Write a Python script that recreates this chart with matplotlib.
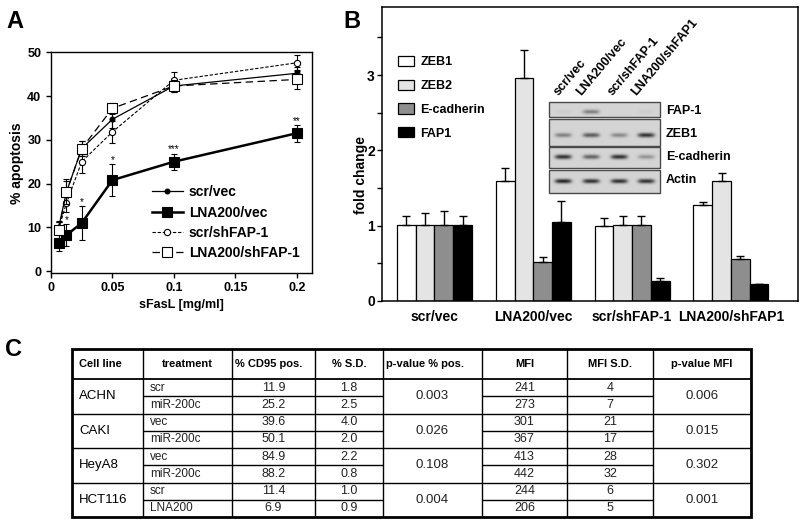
import numpy as np
import matplotlib

matplotlib.use("Agg")
import matplotlib.pyplot as plt
from matplotlib.patches import Rectangle, Patch
from matplotlib import font_manager

plt.rcParams["font.family"] = ["Liberation Sans", "DejaVu Sans"]
plt.rcParams["font.weight"] = "bold"
plt.rcParams["axes.labelweight"] = "bold"

_names = {f.name for f in font_manager.fontManager.ttflist}
NARROW = "Liberation Sans Narrow" if "Liberation Sans Narrow" in _names else "Liberation Sans"

W, H = 800, 526

# ---- panel A: apoptosis vs sFasL
sfasl = [0.00625, 0.0125, 0.025, 0.05, 0.1, 0.2]
scr_vec = [10.0, 18.0, 28.0, 34.7, 42.3, 45.2]
scr_vec_err = [1.5, 3.0, 1.7, 2.0, 1.3, 1.5]
lna_vec = [6.5, 8.2, 11.0, 20.8, 25.0, 31.5]
lna_vec_err = [1.9, 2.5, 3.9, 3.7, 1.8, 1.9]
scr_sh = [9.7, 15.5, 25.0, 31.8, 43.6, 47.6]
scr_sh_err = [1.5, 2.0, 2.5, 2.5, 2.0, 1.8]
lna_sh = [9.3, 18.0, 28.0, 37.2, 42.3, 43.8]
lna_sh_err = [2.0, 2.7, 1.7, 1.2, 1.3, 2.2]
lna_stars = ["", "*", "*", "*", "***", "**"]

# ---- panel B: qPCR fold change
groups = ["scr/vec", "LNA200/vec", "scr/shFAP-1", "LNA200/shFAP1"]
genes = ["ZEB1", "ZEB2", "E-cadherin", "FAP1"]
gene_colors = ["white", "#e4e4e4", "#8e8e8e", "black"]
zeb1 = [1.01, 1.60, 0.99, 1.27]
zeb1_err = [0.12, 0.16, 0.11, 0.05]
zeb2 = [1.01, 2.96, 1.01, 1.60]
zeb2_err = [0.16, 0.37, 0.12, 0.10]
ecad = [1.01, 0.52, 1.01, 0.56]
ecad_err = [0.18, 0.06, 0.12, 0.04]
fap1 = [1.01, 1.05, 0.27, 0.22]
fap1_err = [0.12, 0.28, 0.03, 0.005]

# western blot inset (relative band intensities, 0..1)
blot_lanes = ["scr/vec", "LNA200/vec", "scr/shFAP-1", "LNA200/shFAP1"]
blot_rows = ["FAP-1", "ZEB1", "E-cadherin", "Actin"]
fap1_band = [0.05, 0.45, 0.0, 0.05]
zeb1_band = [0.45, 0.65, 0.4, 0.85]
ecad_band = [0.85, 0.6, 0.85, 0.35]
actin_band = [0.9, 0.85, 0.85, 0.85]

# ---- panel C: table
headers = ["Cell line", "treatment", "% CD95 pos.", "% S.D.", "p-value % pos.",
           "MFI", "MFI S.D.", "p-value MFI"]
cell_lines = ["ACHN", "CAKI", "HeyA8", "HCT116"]
treatments = ["scr", "miR-200c", "vec", "miR-200c", "vec", "miR-200c", "scr", "LNA200"]
cd95_pos = ["11.9", "25.2", "39.6", "50.1", "84.9", "88.2", "11.4", "6.9"]
pos_sd = ["1.8", "2.5", "4.0", "2.0", "2.2", "0.8", "1.0", "0.9"]
p_pos = ["0.003", "0.026", "0.108", "0.004"]
mfi = ["241", "273", "301", "367", "413", "442", "244", "206"]
mfi_sd = ["4", "7", "21", "17", "28", "32", "6", "5"]
p_mfi = ["0.006", "0.015", "0.302", "0.001"]


def px_box(left, top, right, bottom):
    return [left / W, 1 - bottom / H, (right - left) / W, (bottom - top) / H]


fig = plt.figure(figsize=(W / 100, H / 100), dpi=100)

# ---------------- A
ax_a = fig.add_axes(px_box(51, 52.3, 312.3, 273.3))
series = [
    (scr_vec, scr_vec_err, "scr/vec", dict(lw=0.9, marker="o", ms=3.5, mfc="black")),
    (lna_vec, lna_vec_err, "LNA200/vec", dict(lw=1.8, marker="s", ms=7, mfc="black")),
    (scr_sh, scr_sh_err, "scr/shFAP-1", dict(lw=0.8, ls=(0, (3, 1.6)), marker="o", ms=4.5, mfc="white")),
    (lna_sh, lna_sh_err, "LNA200/shFAP-1", dict(lw=0.9, ls=(0, (6, 3.5)), marker="s", ms=7, mfc="white")),
]
for y, e, lab, st in series:
    ax_a.errorbar(sfasl, y, yerr=e, fmt="none", ecolor="black", elinewidth=0.8,
                  capsize=2.5, capthick=0.8)
    ax_a.plot(sfasl, y, color="black", mec="black", mew=0.8, label=lab, **st)
for xi, yi, ei, s in zip(sfasl, lna_vec, lna_vec_err, lna_stars):
    if s:
        ax_a.text(xi, yi + ei + 0.3, s, ha="center", va="baseline", fontsize=7, fontweight="normal")

ax_a.set_xlim(0, 0.2127)
ax_a.set_ylim(-0.5, 50)
ax_a.set_xticks([0, 0.05, 0.1, 0.15, 0.2], ["0", "0.05", "0.1", "0.15", "0.2"])
ax_a.set_yticks([0, 10, 20, 30, 40, 50])
ax_a.tick_params(direction="out", length=3.5, width=1, labelsize=9)
ax_a.tick_params(axis="x", pad=2.5)
ax_a.tick_params(axis="y", pad=3.5)
for sp in ax_a.spines.values():
    sp.set_linewidth(1.0)
ax_a.set_xlabel("sFasL [mg/ml]", fontsize=9)
ax_a.set_ylabel("% apoptosis", fontsize=10)
ax_a.xaxis.set_label_coords(0.5, -0.118)
ax_a.yaxis.set_label_coords(-0.105, 0.5)
ax_a.legend(loc="upper left", bbox_to_anchor=(0.387, 0.398), frameon=False, fontsize=10,
            handlelength=2.2, handletextpad=0.43, labelspacing=0.45, borderpad=0, borderaxespad=0)

# ---------------- B
ax_b = fig.add_axes(px_box(382, 7.3, 798, 301))
pos = np.arange(len(groups))
bw = 0.19
for i, (vals, errs, gene, col) in enumerate(zip([zeb1, zeb2, ecad, fap1],
                                                 [zeb1_err, zeb2_err, ecad_err, fap1_err],
                                                 genes, gene_colors)):
    xs = pos + (i - 1.5) * bw
    ax_b.bar(xs, vals, width=bw, color=col, edgecolor="black", lw=0.9, label=gene, zorder=2)
    ax_b.errorbar(xs, vals, yerr=[np.zeros(len(vals)), errs], fmt="none", ecolor="black",
                  elinewidth=1, capsize=3.2, capthick=1, zorder=3)
ax_b.set_xlim(-0.531, 3.679)
ax_b.set_ylim(0, 3.9)
ax_b.set_yticks([0, 1, 2, 3])
ax_b.set_yticks([0.5, 1.5, 2.5, 3.5], minor=True)
ax_b.tick_params(axis="y", which="both", direction="out", length=3.6, width=1, pad=1.5, labelsize=10)
ax_b.set_xticks(pos, groups)
ax_b.tick_params(axis="x", length=0, pad=6.5, labelsize=10)
for sp in ax_b.spines.values():
    sp.set_linewidth(1.1)
ax_b.set_ylabel("fold change", fontsize=10)
ax_b.yaxis.set_label_coords(-0.034, 0.43)
handles = [Patch(facecolor=c, edgecolor="black", lw=0.9) for c in gene_colors]
ax_b.legend(handles, genes, loc="upper left", bbox_to_anchor=(0.038, 0.835), frameon=False,
            fontsize=9, handlelength=1.3, handleheight=0.9, handletextpad=0.5,
            labelspacing=0.9, borderpad=0, borderaxespad=0)

# ---------------- overlay (pixel coordinates): blot inset + table
ax_o = fig.add_axes([0, 0, 1, 1])
ax_o.axis("off")

blot_left, blot_right = 549, 659.5
strip_tops = [101.7, 119, 147, 170]
strip_bottoms = [116.7, 145.7, 168.3, 192.7]
band_y = [111.5, 135, 157.5, 181]
lane_x = [563, 591, 619, 646]
for k, intens in enumerate([fap1_band, zeb1_band, ecad_band, actin_band]):
    top, bot = strip_tops[k], strip_bottoms[k]
    xx = np.linspace(blot_left, blot_right, 220)
    yy = np.linspace(top, bot, 60)
    X, Y = np.meshgrid(xx, yy)
    img = np.full(X.shape, 0.27)
    for lx, amp in zip(lane_x, intens):
        img += 0.68 * amp * np.exp(-((X - lx) / 8.5) ** 4) * np.exp(-((Y - band_y[k]) / 2.3) ** 2)
    ax_o.imshow(img, extent=(blot_left, blot_right, bot, top), cmap="Greys", vmin=0, vmax=1,
                aspect="auto", interpolation="bilinear", zorder=3)
    ax_o.add_patch(Rectangle((blot_left, top), blot_right - blot_left, bot - top, fill=False,
                             ec="#4a4a4a", lw=1, zorder=4))
    ax_o.text(666, band_y[k] - 1, blot_rows[k], ha="left", va="center", fontsize=9)
lane_anchor_x = [561, 583, 615, 638]
for lx, lab in zip(lane_anchor_x, blot_lanes):
    ax_o.text(lx, 98, lab, rotation=50, rotation_mode="anchor", ha="left", va="bottom", fontsize=9)

# table
col_edges = [72, 143, 232, 315, 383, 482, 567, 653, 751]
tab_top, head_bot, row_h = 349, 379, 17.25
tab_bot = head_bot + 8 * row_h
ax_o.add_patch(Rectangle((col_edges[0], tab_top), col_edges[-1] - col_edges[0], tab_bot - tab_top,
                         fill=False, ec="black", lw=2.0, zorder=5))
ax_o.hlines(head_bot, col_edges[0], col_edges[-1], color="black", lw=1.3)
for g in range(1, 4):
    ax_o.hlines(head_bot + 2 * g * row_h, col_edges[0], col_edges[-1], color="black", lw=1.0)
for g in range(4):
    yline = head_bot + (2 * g + 1) * row_h
    ax_o.hlines(yline, col_edges[1], col_edges[4], color="black", lw=1.0)
    ax_o.hlines(yline, col_edges[5], col_edges[7], color="black", lw=1.0)
ax_o.vlines(col_edges[1:-1], tab_top, tab_bot, color="black", lw=1.0)

head_y = (tab_top + head_bot) / 2
head_ha = ["left", "center", "left", "center", "left", "center", "center", "center"]
for j, (hd, ha) in enumerate(zip(headers, head_ha)):
    x = col_edges[j] + 3 if ha == "left" else (col_edges[j] + col_edges[j + 1]) / 2
    if j == 0:
        x = col_edges[0] + 7
    ax_o.text(x, head_y, hd, ha=ha, va="center", fontsize=8, fontweight="bold")

for r in range(8):
    yc = head_bot + (r + 0.5) * row_h
    ax_o.text(col_edges[1] + 7, yc, treatments[r], ha="left", va="center",
              fontsize=8.5, fontweight="normal", family=NARROW, color="#222222")
    for j, col in ((2, cd95_pos), (3, pos_sd), (5, mfi), (6, mfi_sd)):
        ax_o.text((col_edges[j] + col_edges[j + 1]) / 2, yc, col[r], ha="center", va="center",
                  fontsize=9, fontweight="normal", family=NARROW, color="#222222")
for g in range(4):
    yc = head_bot + (2 * g + 1) * row_h
    ax_o.text(col_edges[0] + 7, yc, cell_lines[g], ha="left", va="center", fontsize=9.5,
              fontweight="normal")
    for j, col in ((4, p_pos), (7, p_mfi)):
        ax_o.text((col_edges[j] + col_edges[j + 1]) / 2, yc, col[g], ha="center", va="center",
                  fontsize=9.5, fontweight="normal", family=NARROW, color="#222222")

# panel letters
for lab, x, y in (("A", 15, 22), ("B", 352, 22), ("C", 13, 349)):
    ax_o.text(x, y, lab, ha="center", va="center", fontsize=17, fontweight="bold")

ax_o.set_xlim(0, W)
ax_o.set_ylim(H, 0)

fig.savefig("out.png", dpi=100)
